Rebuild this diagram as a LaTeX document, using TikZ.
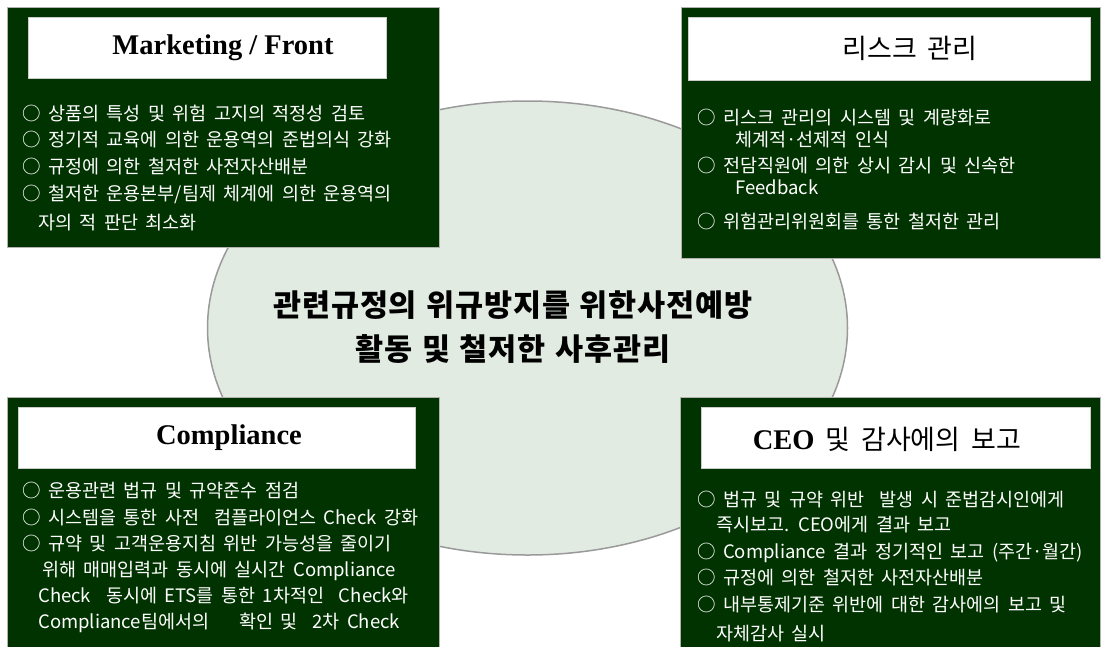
\documentclass[tikz,border=0pt]{standalone}
\usepackage{fontspec}
\setmainfont{Liberation Serif}
\newfontfamily\kr[WordSpace=1.8]{Noto Sans CJK KR}
\newfontfamily\krc[WordSpace=1.2,LetterSpace=3]{Noto Sans CJK KR}
\usetikzlibrary{shapes.geometric}
\definecolor{boxgreen}{HTML}{003300}
\definecolor{ellfill}{HTML}{E1EBE1}
\definecolor{ellline}{HTML}{9A9A9A}
\begin{document}
\begin{tikzpicture}[x=1pt,y=-1pt,
  panel/.style={draw=gray!60, line width=1pt, fill=boxgreen, inner sep=0pt, outer sep=0pt, anchor=north west},
  titlebox/.style={draw=gray!40, line width=0.6pt, fill=white, inner sep=0pt, outer sep=0pt, anchor=north west},
  sertitle/.style={font=\fontsize{28.5}{30}\selectfont\bfseries, inner sep=0pt},
  krtitle/.style={font=\kr\fontsize{27}{30}\selectfont, inner sep=0pt},
  body/.style={text=white, font=\kr\fontsize{18.5}{20}\selectfont, anchor=base west, inner sep=0pt},
  centertext/.style={font=\krc\bfseries\fontsize{30.5}{44}\selectfont, align=center, inner sep=0pt}
]
\useasboundingbox (0,0) rectangle (1102,646);
\fill[white] (0,0) rectangle (1102,646);

% central ellipse
\node[ellipse, draw=ellline, line width=1.5pt, fill=ellfill, minimum width=640, minimum height=454, inner sep=0pt] (hub) at (527.5,328) {};
\node[centertext] (hubtext) at (513,327) {관련규정의 위규방지를 위한사전예방\\활동 및 철저한 사후관리};

% panels
\node[panel, minimum width=432, minimum height=240] (tl) at (7,7) {};
\node[panel, minimum width=419, minimum height=251] (tr) at (681,7) {};
\node[panel, minimum width=432, minimum height=260] (bl) at (7,397) {};
\node[panel, minimum width=420, minimum height=260] (br) at (680,397) {};

% title boxes
\node[titlebox, minimum width=358, minimum height=61] (tlt) at (28,17) {};
\node[titlebox, minimum width=402, minimum height=63] (trt) at (688,17) {};
\node[titlebox, minimum width=397, minimum height=61] (blt) at (18,407) {};
\node[titlebox, minimum width=389, minimum height=61] (brt) at (701,407) {};

\node[sertitle] (tltx) at (223,48) {Marketing / Front};
\node[krtitle] (trtx) at (910,48) {리스크 관리};
\node[sertitle] (bltx) at (229,438) {Compliance};
\node[krtitle, anchor=base] (brtx) at (887,449) {{\rmfamily\bfseries\fontsize{28.5}{30}\selectfont CEO} 및 감사에의 보고};

% top-left body
\node[body] (tl1) at (22,120) {○ 상품의 특성 및 위험 고지의 적정성 검토};
\node[body] (tl2) at (22,146) {○ 정기적 교육에 의한 운용역의 준법의식 강화};
\node[body] (tl3) at (22,173) {○ 규정에 의한 철저한 사전자산배분};
\node[body] (tl4) at (22,200) {○ 철저한 운용본부/팀제 체계에 의한 운용역의};
\node[body] (tl5) at (38,229) {자의 적 판단 최소화};

% top-right body
\node[body] (tr1) at (697,124) {○ 리스크 관리의 시스템 및 계량화로};
\node[body] (tr2) at (735,146) {체계적·선제적 인식};
\node[body] (tr3) at (697,172) {○ 전담직원에 의한 상시 감시 및 신속한};
\node[body] (tr4) at (735,194) {Feedback};
\node[body] (tr5) at (697,228) {○ 위험관리위원회를 통한 철저한 관리};

% bottom-left body
\node[body] (bl1) at (22,497) {○ 운용관련 법규 및 규약준수 점검};
\node[body] (bl2) at (22,524) {○ 시스템을 통한 사전\ \ 컴플라이언스 Check 강화};
\node[body] (bl3) at (22,550) {○ 규약 및 고객운용지침 위반 가능성을 줄이기};
\node[body] (bl4) at (42,576) {위해 매매입력과 동시에 실시간 Compliance};
\node[body] (bl5) at (38,602) {Check\ \ 동시에 ETS를 통한 1차적인\ \ Check와};
\node[body] (bl6) at (38,628) {Compliance팀에서의\ \ \ \ 확인 및\ \ 2차 Check};

% bottom-right body
\node[body] (br1) at (697,506) {○ 법규 및 규약 위반\ \ 발생 시 준법감시인에게};
\node[body] (br2) at (716,531) {즉시보고. CEO에게 결과 보고};
\node[body] (br3) at (697,558) {○ Compliance 결과 정기적인 보고 (주간·월간)};
\node[body] (br4) at (697,584) {○ 규정에 의한 철저한 사전자산배분};
\node[body] (br5) at (697,611) {○ 내부통제기준 위반에 대한 감사에의 보고 및};
\node[body] (br6) at (716,640) {자체감사 실시};
\end{tikzpicture}
\end{document}
